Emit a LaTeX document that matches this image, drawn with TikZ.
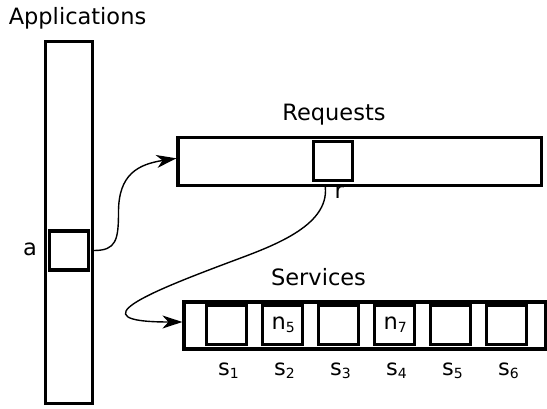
\documentclass[tikz,border=0pt]{standalone}
\usepackage{fontspec}
\setmainfont{DejaVu Sans}
\usetikzlibrary{arrows.meta,calc}
% lowered, smaller index after a letter
\newcommand{\lowidx}[1]{\raisebox{-3pt}{\fontsize{14}{14}\selectfont #1}}

\begin{document}
\begin{tikzpicture}[x=1pt,y=-1pt,
  font=\fontsize{22.5}{27}\selectfont,
  outerbox/.style={draw, rectangle, line width=3.2pt, inner sep=0pt},
  cell/.style={draw, rectangle, line width=3.1pt, inner sep=0pt,
               minimum width=39pt, minimum height=39pt},
  scell/.style={cell, minimum width=40pt, minimum height=38.5pt},
  caption/.style={inner sep=0pt, anchor=base},
  link/.style={line width=1.4pt, -{Stealth[length=20pt,width=13pt,inset=6pt]}}]

  \useasboundingbox (0,0) rectangle (547,409);

  % applications column
  \node[outerbox, minimum width=47pt, minimum height=362pt] (app) at (69,222.5) {};
  \node[cell] (a) at (69,250.5) {};
  \node[caption] (apptitle) at (77.5,25) {Applications};
  \node[caption] (alabel) at (30,255) {a};

  % request queue
  \node[outerbox, minimum width=363.3pt, minimum height=48pt] (req) at (359.65,161.3) {};
  \node[cell] (rbox) at (332.8,160.7) {};
  \node[caption] (reqtitle) at (334,121) {Requests};
  \node[caption, anchor=base west] (rlabel) at (334.5,199) {r};

  % service slots
  \node[outerbox, minimum width=361.5pt, minimum height=47pt] (serv) at (364.75,325.5) {};
  \node[caption] (servtitle) at (318.5,286) {Services};
  \foreach \i/\txt in {1/,2/{n\lowidx{5}},3/,4/{n\lowidx{7}},5/,6/} {
    \node[scell] (s\i) at ({226.8+56*(\i-1)},325) {};
    \node[caption] (s\i txt) at ({227.3+56*(\i-1)},330) {\txt};
    \node[caption] (s\i lab) at ({228.5+56*(\i-1)},375) {s\lowidx{\i}};
  }

  % application -> request
  \coordinate (reqin) at ($(req.west)+(0,-3)$);
  \coordinate (rise) at (118.5,212);
  \draw[link] (app.east |- a.east) .. controls +(22,0) and +(0,28) .. (rise)
              .. controls +(0,-38) and +(-38,6) .. (reqin);

  % request -> service
  \coordinate (rstart) at ($(rbox.south |- req.south)+(-7.5,0)$);
  \coordinate (bend) at (230,262);
  \coordinate (servin) at ($(serv.west)+(0,-3.5)$);
  \draw[link] (rstart) .. controls +(4,40) and +(40,-15) .. (bend)
              .. controls +(-80,30) and +(-107,0) .. (servin);
\end{tikzpicture}
\end{document}
